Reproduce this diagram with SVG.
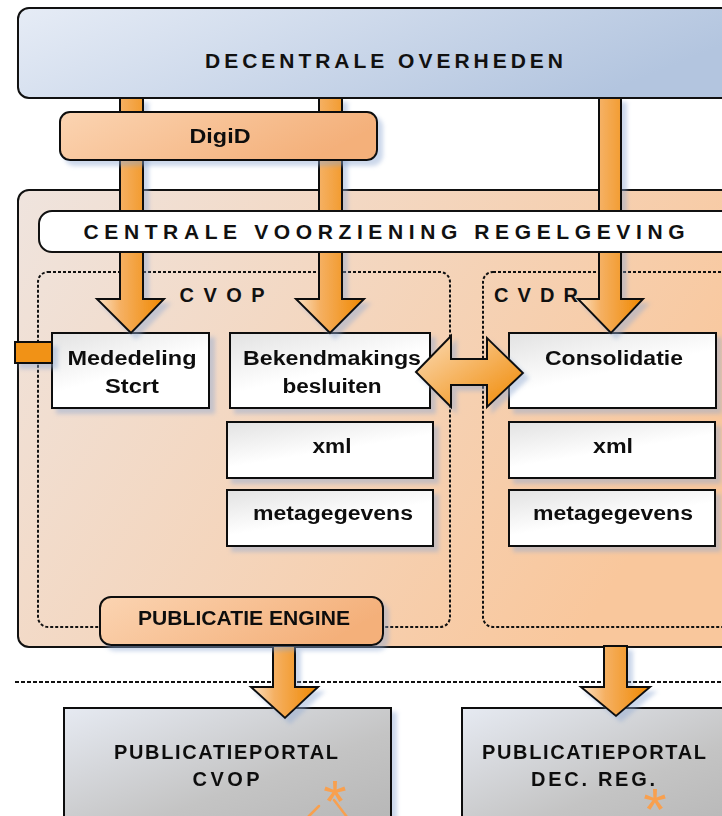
<svg xmlns="http://www.w3.org/2000/svg" width="722" height="816" viewBox="0 0 722 816">
<style>
.t{font-family:"Liberation Sans",Arial,sans-serif;font-weight:bold;fill:#111;text-anchor:middle}
.big{font-size:21px}
.mid{font-size:20px}
.box{stroke:#111;stroke-width:2}
.dot{fill:none;stroke:#111;stroke-width:2;stroke-dasharray:3 2}
.arr{stroke:#111;stroke-width:2;stroke-linejoin:miter;fill:url(#gArr)}
.ast{font-family:"Liberation Sans",Arial,sans-serif;font-size:60px;fill:#f8a050;text-anchor:middle}
</style>
<defs>
<linearGradient id="gTop" x1="0" y1="0" x2="1" y2="0.3">
<stop offset="0" stop-color="#e6ecf6"/><stop offset="1" stop-color="#b3c5df"/>
</linearGradient>
<linearGradient id="gMain" x1="0" y1="0" x2="1" y2="0.4">
<stop offset="0" stop-color="#efe4de"/><stop offset="1" stop-color="#f9c79c"/>
</linearGradient>
<linearGradient id="gPeach" x1="0" y1="0" x2="1" y2="0.3">
<stop offset="0" stop-color="#fbd4b2"/><stop offset="1" stop-color="#f4b07a"/>
</linearGradient>
<linearGradient id="gWhite" x1="0" y1="0" x2="0.6" y2="1">
<stop offset="0" stop-color="#e2e2e2"/><stop offset="0.6" stop-color="#ffffff"/><stop offset="1" stop-color="#ffffff"/>
</linearGradient>
<linearGradient id="gGray" x1="0" y1="0" x2="1" y2="1">
<stop offset="0" stop-color="#e6eaf2"/><stop offset="0.6" stop-color="#c4c4c4"/><stop offset="1" stop-color="#b6b6b6"/>
</linearGradient>
<linearGradient id="gArr" x1="0" y1="0" x2="1" y2="0">
<stop offset="0" stop-color="#fbe2c6"/><stop offset="0.35" stop-color="#f5b062"/><stop offset="1" stop-color="#f08800"/>
</linearGradient>
<linearGradient id="gDbl" x1="0" y1="0" x2="1" y2="1">
<stop offset="0" stop-color="#fbdcb8"/><stop offset="1" stop-color="#f08800"/>
</linearGradient>
<filter id="sh" x="-10%" y="-10%" width="130%" height="140%">
<feDropShadow dx="5" dy="5" stdDeviation="2" flood-color="#8ea8d2" flood-opacity="0.45"/>
</filter>
</defs>

<g id="centrale-voorziening">
<rect x="18" y="190" width="730" height="457" rx="11" class="box" fill="url(#gMain)"/>
</g>
<g id="cvop">
<rect x="38" y="272" width="412" height="355" rx="10" class="dot"/>
<text x="222" y="302" class="t mid" textLength="85" lengthAdjust="spacing">CVOP</text>
</g>
<g id="cvdr">
<rect x="483" y="272" width="270" height="355" rx="10" class="dot"/>
<text x="536" y="302" class="t mid" textLength="84" lengthAdjust="spacing">CVDR</text>
</g>

<g id="mededeling" filter="url(#sh)">
<rect x="52" y="333" width="157" height="75" class="box" fill="url(#gWhite)"/>
<text x="132" y="365" class="t mid" textLength="129" lengthAdjust="spacingAndGlyphs">Mededeling</text>
<text x="132" y="393" class="t mid" textLength="54" lengthAdjust="spacingAndGlyphs">Stcrt</text>
</g>
<g id="bekendmakings" filter="url(#sh)">
<rect x="230" y="333" width="200" height="75" class="box" fill="url(#gWhite)"/>
<text x="332" y="365" class="t mid" textLength="178" lengthAdjust="spacingAndGlyphs">Bekendmakings</text>
<text x="332" y="393" class="t mid" textLength="99" lengthAdjust="spacingAndGlyphs">besluiten</text>
</g>
<g id="xml-cvop" filter="url(#sh)">
<rect x="227" y="422" width="206" height="56" class="box" fill="url(#gWhite)"/>
<text x="332" y="453" class="t mid" textLength="39" lengthAdjust="spacingAndGlyphs">xml</text>
</g>
<g id="meta-cvop" filter="url(#sh)">
<rect x="227" y="490" width="206" height="56" class="box" fill="url(#gWhite)"/>
<text x="333" y="520" class="t mid" textLength="160" lengthAdjust="spacingAndGlyphs">metagegevens</text>
</g>
<g id="consolidatie" filter="url(#sh)">
<rect x="509" y="333" width="207" height="75" class="box" fill="url(#gWhite)"/>
<text x="614" y="365" class="t mid" textLength="138" lengthAdjust="spacingAndGlyphs">Consolidatie</text>
</g>
<g id="xml-cvdr" filter="url(#sh)">
<rect x="509" y="422" width="206" height="56" class="box" fill="url(#gWhite)"/>
<text x="613" y="453" class="t mid" textLength="40" lengthAdjust="spacingAndGlyphs">xml</text>
</g>
<g id="meta-cvdr" filter="url(#sh)">
<rect x="509" y="490" width="206" height="56" class="box" fill="url(#gWhite)"/>
<text x="613" y="520" class="t mid" textLength="160" lengthAdjust="spacingAndGlyphs">metagegevens</text>
</g>

<g id="portal-cvop" filter="url(#sh)">
<rect x="64" y="708" width="327" height="120" class="box" fill="url(#gGray)"/>
<text x="226" y="759" class="t mid" textLength="224" lengthAdjust="spacing">PUBLICATIEPORTAL</text>
<text x="226" y="786" class="t mid" textLength="67" lengthAdjust="spacing">CVOP</text>
<text x="335" y="822" class="ast">*</text>
<path d="M308,817 L319,806 M334,800 L347,817" fill="none" stroke="#f8a050" stroke-width="2.5" stroke-linecap="round"/>
</g>
<g id="portal-dec" filter="url(#sh)">
<rect x="462" y="708" width="290" height="120" class="box" fill="url(#gGray)"/>
<text x="594" y="759" class="t mid" textLength="224" lengthAdjust="spacing">PUBLICATIEPORTAL</text>
<text x="593" y="786" class="t mid" textLength="124" lengthAdjust="spacing">DEC. REG.</text>
<text x="655" y="830" class="ast">*</text>
</g>

<line x1="15" y1="682" x2="722" y2="682" stroke="#111" stroke-width="2" stroke-dasharray="4 2"/>

<g id="connectors" filter="url(#sh)">
<path class="arr" d="M120,98 H143 V299 H164 L131,333 L97,299 H120 Z"/>
<path class="arr" d="M319,98 H342 V299 H364 L330,333 L296,299 H319 Z"/>
<path class="arr" d="M599,98 H621 V299 H643 L611,333 L578,299 H599 Z"/>
<path class="arr" d="M273,646 H295 V687 H318 L285,718 L251,687 H273 Z"/>
<path class="arr" d="M604,646 H627 V687 H650 L616,716 L581,687 H604 Z"/>
<path d="M416,372 L451,336 V359 H487 V338 L523,373 L487,407 V385 H451 V407 Z" stroke="#111" stroke-width="2" fill="url(#gDbl)"/>
<rect x="15" y="342" width="37" height="21" stroke="#111" stroke-width="2" fill="#f19216"/>
</g>

<g id="digid" filter="url(#sh)">
<rect x="60" y="112" width="317" height="48" rx="10" class="box" fill="url(#gPeach)"/>
<text x="220" y="143" class="t big" textLength="61" lengthAdjust="spacingAndGlyphs">DigiD</text>
</g>
<g id="cvr-title">
<rect x="39" y="211" width="710" height="41" rx="13" class="box" fill="#ffffff"/>
<text x="384" y="239" class="t big" textLength="601" lengthAdjust="spacing">CENTRALE VOORZIENING REGELGEVING</text>
</g>
<g id="decentrale-overheden">
<rect x="18" y="8" width="730" height="90" rx="11" class="box" fill="url(#gTop)"/>
<text x="384" y="68" class="t big" textLength="358" lengthAdjust="spacing">DECENTRALE OVERHEDEN</text>
</g>
<g id="publicatie-engine" filter="url(#sh)">
<rect x="100" y="597" width="283" height="48" rx="11" class="box" fill="url(#gPeach)"/>
<text x="244" y="625" class="t mid" textLength="212" lengthAdjust="spacingAndGlyphs">PUBLICATIE ENGINE</text>
</g>
</svg>
